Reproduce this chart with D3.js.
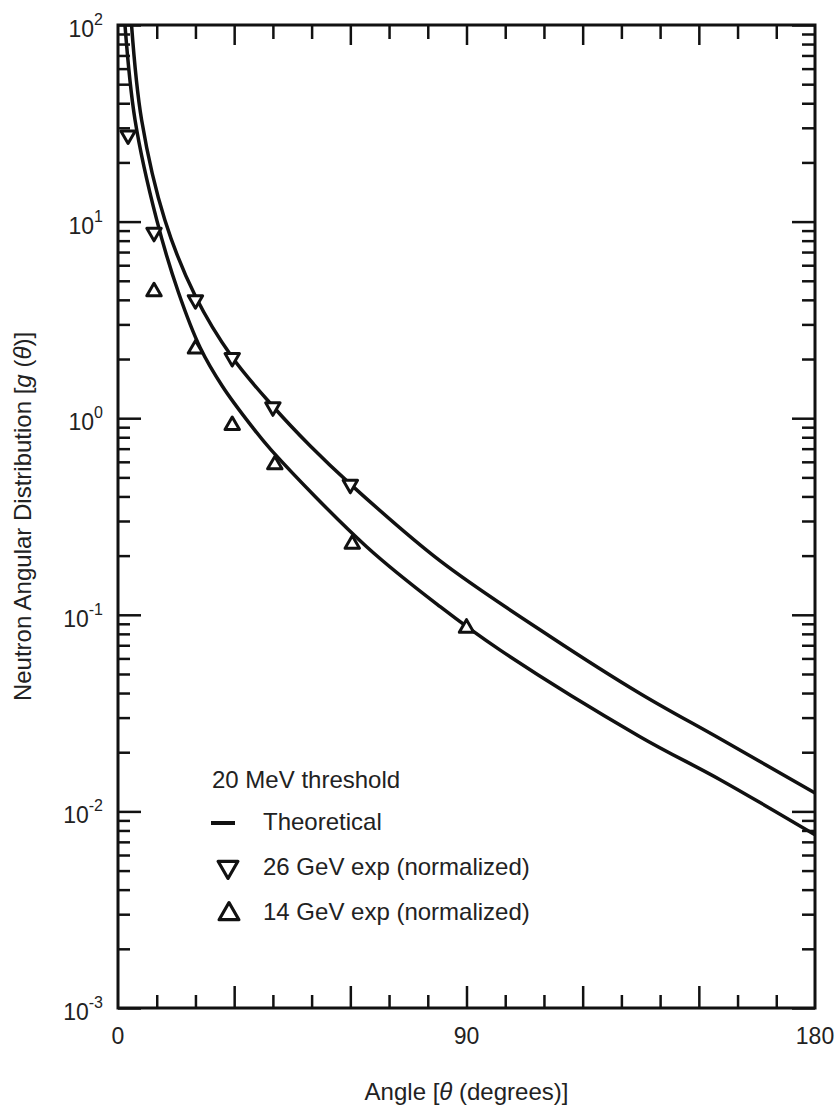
<!DOCTYPE html>
<html>
<head>
<meta charset="utf-8">
<script src="https://cdn.jsdelivr.net/npm/d3@7"></script>
<style>
	body { margin: 0; background: #fff; }
	svg text { font-family: "Liberation Sans", Arial, Helvetica, sans-serif; fill: #222; }
</style>
</head>
<body>
<svg id="chart" width="838" height="1111"></svg>
<script>
// theoretical curves (angle in degrees, g(theta))
const upperAngles = [3.5, 6.1, 12.1, 20, 29.5, 40, 49.6, 60, 83.2, 111.6, 134.8, 155.5, 180];
const upperValues = [100, 32.9, 10.2, 4.17, 2.04, 1.15, 0.724, 0.462, 0.188, 0.0776, 0.0398, 0.0234, 0.0124];
const lowerAngles = [1.8, 4.4, 10.0, 15.6, 21.2, 27, 34.1, 39.7, 64.2, 83.2, 98.7, 134.8, 155.5, 180];
const lowerValues = [100, 32.9, 10.2, 4.37, 2.29, 1.45, 0.933, 0.684, 0.222, 0.110, 0.0661, 0.0240, 0.0145, 0.0076];

// experimental points
const exp26Angles = [2.6, 9.3, 20, 29.5, 40, 60];
const exp26Values = [27.5, 8.8, 4.0, 2.03, 1.14, 0.46];
const exp14Angles = [9.3, 20, 29.5, 40.5, 60.5, 90];
const exp14Values = [4.4, 2.25, 0.92, 0.58, 0.229, 0.0857];

const xLabelValues = [0, 90, 180];
const yExponents = [-3, -2, -1, 0, 1, 2];
const legendTitle = "20 MeV threshold";
const legendLabels = ["Theoretical", "26 GeV exp (normalized)", "14 GeV exp (normalized)"];

const margin = { left: 118, top: 25, right: 815, bottom: 1008 };
const ink = "#111";

const svg = d3.select("#chart");

const x = d3.scaleLinear()
	.domain([0, 180])
	.range([margin.left, margin.right]);

const y = d3.scaleLog()
	.domain([1e-3, 1e2])
	.range([margin.bottom, margin.top]);

svg.append("clipPath")
	.attr("id", "plot-clip")
	.append("rect")
	.attr("x", margin.left)
	.attr("y", margin.top)
	.attr("width", margin.right - margin.left)
	.attr("height", margin.bottom - margin.top);

// ticks, all pointing inward
const minorX = d3.range(10, 180, 10).filter(v => v % 30 !== 0);
const majorX = d3.range(30, 180, 30);
const majorY = yExponents.map(e => Math.pow(10, e));
const minorY = [];
yExponents.slice(0, -1).forEach(e => {
	for (let k = 2; k <= 9; k++) minorY.push(k * Math.pow(10, e));
});

function tickAxis(axisFn, scale, values, size, transform) {
	const g = svg.append("g")
		.attr("transform", transform)
		.call(axisFn(scale).tickValues(values).tickSize(size).tickFormat(""));
	g.select(".domain").remove();
	g.selectAll(".tick line")
		.attr("stroke", ink)
		.attr("stroke-width", 2.5);
	return g;
}

tickAxis(d3.axisBottom, x, minorX, -13, `translate(0,${margin.bottom})`);
tickAxis(d3.axisBottom, x, majorX, -22, `translate(0,${margin.bottom})`);
tickAxis(d3.axisTop, x, minorX, -14, `translate(0,${margin.top})`);
tickAxis(d3.axisTop, x, majorX, -20, `translate(0,${margin.top})`);
tickAxis(d3.axisLeft, y, minorY, -12, `translate(${margin.left},0)`);
tickAxis(d3.axisLeft, y, majorY, -23, `translate(${margin.left},0)`);
tickAxis(d3.axisRight, y, minorY, -13, `translate(${margin.right},0)`);
tickAxis(d3.axisRight, y, majorY, -23, `translate(${margin.right},0)`);

// frame
svg.append("rect")
	.attr("x", margin.left)
	.attr("y", margin.top)
	.attr("width", margin.right - margin.left)
	.attr("height", margin.bottom - margin.top)
	.attr("fill", "none")
	.attr("stroke", ink)
	.attr("stroke-width", 3);

// tick labels
svg.append("g")
	.selectAll("text")
	.data(xLabelValues)
	.join("text")
	.attr("x", d => x(d))
	.attr("y", 1044)
	.attr("text-anchor", "middle")
	.attr("font-size", 23)
	.text(d => d);

const yLabels = svg.append("g")
	.selectAll("text")
	.data(yExponents)
	.join("text")
	.attr("x", 103)
	.attr("y", d => y(Math.pow(10, d)) + 12)
	.attr("text-anchor", "end")
	.attr("font-size", 23)
	.text("10");
yLabels.append("tspan")
	.attr("dy", -12)
	.attr("font-size", 16)
	.text(d => d < 0 ? "-" + Math.abs(d) : d);

// axis titles
svg.append("text")
	.attr("x", (margin.left + margin.right) / 2)
	.attr("y", 1100)
	.attr("text-anchor", "middle")
	.attr("font-size", 24)
	.html('Angle [<tspan font-style="italic">θ</tspan> (degrees)]');

svg.append("text")
	.attr("transform", `translate(31,${(margin.top + margin.bottom) / 2}) rotate(-90)`)
	.attr("text-anchor", "middle")
	.attr("font-size", 24)
	.html('Neutron Angular Distribution [<tspan font-style="italic">g</tspan> (<tspan font-style="italic">θ</tspan>)]');

// curves
const line = d3.line()
	.x(d => x(d[0]))
	.y(d => y(d[1]))
	.curve(d3.curveCatmullRom.alpha(0.5));

const curves = [
	d3.zip(upperAngles, upperValues),
	d3.zip(lowerAngles, lowerValues)
];

svg.append("g")
	.attr("clip-path", "url(#plot-clip)")
	.selectAll("path")
	.data(curves)
	.join("path")
	.attr("d", line)
	.attr("fill", "none")
	.attr("stroke", ink)
	.attr("stroke-width", 3.5);

// markers
const triangle = d3.symbol().type(d3.symbolTriangle);

svg.append("g")
	.selectAll("path")
	.data(d3.zip(exp26Angles, exp26Values))
	.join("path")
	.attr("transform", d => `translate(${x(d[0])},${y(d[1])}) rotate(180)`)
	.attr("d", triangle.size(90)())
	.attr("fill", "#fff")
	.attr("stroke", ink)
	.attr("stroke-width", 3)
	.attr("stroke-linejoin", "round");

svg.append("g")
	.selectAll("path")
	.data(d3.zip(exp14Angles, exp14Values))
	.join("path")
	.attr("transform", d => `translate(${x(d[0])},${y(d[1])})`)
	.attr("d", triangle.size(90)())
	.attr("fill", "#fff")
	.attr("stroke", ink)
	.attr("stroke-width", 3)
	.attr("stroke-linejoin", "round");

// legend
const legend = svg.append("g");
legend.append("text")
	.attr("x", 212)
	.attr("y", 788)
	.attr("font-size", 24)
	.text(legendTitle);

const legendRows = [830, 875, 920];
legend.selectAll("text.item")
	.data(legendLabels)
	.join("text")
	.attr("class", "item")
	.attr("x", 263)
	.attr("y", (d, i) => legendRows[i])
	.attr("font-size", 24)
	.text(d => d);

legend.append("line")
	.attr("x1", 211)
	.attr("x2", 235)
	.attr("y1", 823)
	.attr("y2", 823)
	.attr("stroke", ink)
	.attr("stroke-width", 4);

legend.append("path")
	.attr("transform", "translate(228,867) rotate(180)")
	.attr("d", triangle.size(170)())
	.attr("fill", "#fff")
	.attr("stroke", ink)
	.attr("stroke-width", 3.2)
	.attr("stroke-linejoin", "round");

legend.append("path")
	.attr("transform", "translate(229,914)")
	.attr("d", triangle.size(170)())
	.attr("fill", "#fff")
	.attr("stroke", ink)
	.attr("stroke-width", 3.2)
	.attr("stroke-linejoin", "round");
</script>
</body>
</html>
